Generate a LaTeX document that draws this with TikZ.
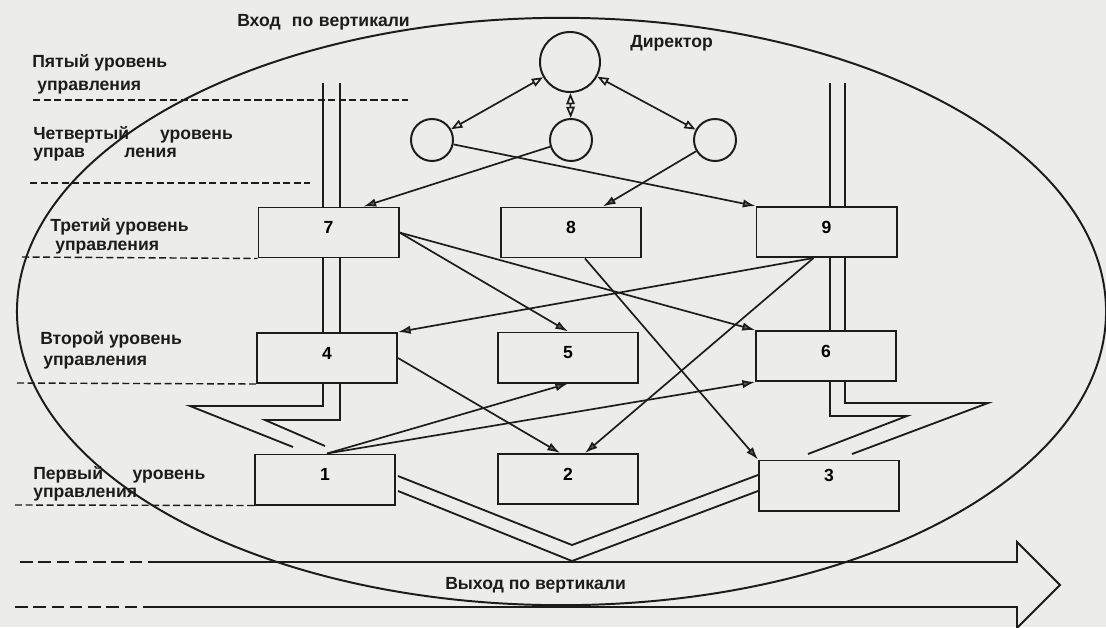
\documentclass[tikz,border=0pt]{standalone}
\usepackage{fontspec}
\setmainfont{Liberation Sans}
\usetikzlibrary{arrows.meta,positioning,calc}
\definecolor{paper}{RGB}{236,236,233}
\definecolor{ink}{RGB}{28,28,28}

\tikzset{
  unit/.style={draw=ink,line width=1.4pt,minimum width=3.5cm,minimum height=1.25cm,inner sep=0pt,text height=9pt,text depth=7pt},
  boss/.style={circle,draw=ink,line width=1.4pt,minimum size=1.5cm,inner sep=0pt},
  deputy/.style={circle,draw=ink,line width=1.4pt,minimum size=1.05cm,inner sep=0pt},
  link/.style={draw=ink,line width=1.2pt,-{Latex[length=9pt,width=6pt,fill=ink!70]}},
  both/.style={draw=ink,line width=1.2pt,{Triangle[open,length=8pt,width=6pt]}-{Triangle[open,length=8pt,width=6pt]}},
  level/.style={anchor=west,inner sep=0pt,text=ink},
  border/.style={draw=ink,dash pattern=on 5pt off 2.5pt,line width=1pt},
  longdash/.style={draw=ink,dash pattern=on 9pt off 4pt,line width=1.4pt},
  chan/.style={draw=ink,line width=1.3pt},
}

\begin{document}
\begin{tikzpicture}[x=0.025cm,y=-0.025cm,font=\bfseries\fontsize{12.5}{15}\selectfont]
        \useasboundingbox (0,0) rectangle (1106,627);
        \fill[paper] (0,0) rectangle (1106,627);

        % the big ellipse
        \draw[ink,line width=1.4pt] (561.5,311.5) ellipse [x radius=13.61cm, y radius=7.34cm];

        % level names on the left
        \node[level] (l5a) at (32,63) {Пятый уровень};
        \node[level] (l5b) at (37,88) {управления};
        \node[level] (l4a) at (33,135) {Четвертый\hspace{22pt}уровень};
        \node[level] (l4b) at (33,155) {управ\hspace{28pt}ления};
        \node[level] (l3a) at (50,227) {Третий уровень};
        \node[level] (l3b) at (55,248) {управления};
        \node[level] (l2a) at (40,340) {Второй уровень};
        \node[level] (l2b) at (43,363) {управления};
        \node[level] (l1a) at (33,475) {Первый\hspace{21pt}уровень};
        \node[level] (l1b) at (33,495) {управления};

        \node[level] (in) at (237,22) {Вход\hspace{8pt}по\hspace{4pt}вертикали};
        \node[level] (out) at (445,585) {Выход по вертикали};
        \node[level] (dirname) at (630,43) {Директор};

        % level borders
        \draw[border] (33,100) -- (408,100);
        \draw[border] (30,183) -- (310,183);

        % director and deputies
        \node[boss] (dir) at (570,62) {};
        \node[deputy] (dl) at (432,140) {};
        \node[deputy] (dm) at (571,140) {};
        \node[deputy] (dr) at (715,140) {};

        % units
        \node[unit] (b7) at (328.5,232.5) {7};
        \node[unit] (b8) at (571,232.5) {8};
        \node[unit] (b9) at (826.5,232) {9};
        \node[unit] (b4) at (327,358) {4};
        \node[unit] (b5) at (568,357.5) {5};
        \node[unit] (b6) at (826,356) {6};
        \node[unit] (b1) at (325,479.5) {1};
        \node[unit] (b2) at (568,479) {2};
        \node[unit,text depth=14pt] (b3) at (829,485.5) {3};

        \draw[border] (22,257) -- (b7.south west);
        \draw[border] (17,383) -- (b4.south west);
        \draw[border] (15,505) -- (b1.south west);

        % vertical channels
        \foreach \cx in {323,340,830,845} {
          \draw[chan] (\cx,83) -- (\cx,207);
          \draw[chan] (\cx,258) -- (\cx,332);
        }
        \draw[chan] (323,383) -- (323,406) -- (190,406) -- (293,447);
        \draw[chan] (340,383) -- (340,420) -- (265,420) -- (325,446);
        \draw[chan] (830,382) -- (830,416) -- (907,416) -- (808,454);
        \draw[chan] (845,382) -- (845,403) -- (988,403) -- (852,454);

        % director links
        \draw[both] (dir) -- (dl);
        \draw[both] (dir) -- (dm);
        \draw[both] (dir) -- (dr);
        \draw[link] (dl) -- (b9.north west);
        \draw[link] (dm) -- ($(b7.north)+(35,0)$);
        \draw[link] (dr) -- ($(b8.north)+(32,0)$);

        % links between units
        \draw[link] (b7.east) -- (b5.north);
        \draw[link] (b7.east) -- (b6.north west);
        \draw[link] ($(b8.south)+(14,0)$) -- (b3.north west);
        \draw[link] ($(b9.south)+(-13,0)$) -- (b4.north east);
        \draw[link] ($(b9.south)+(-13,0)$) -- ($(b2.north)+(17,0)$);
        \draw[link] (b4.east) -- ($(b2.north)+(-8,0)$);
        \draw[link] ($(b1.north)+(2,0)$) -- (b5.south);
        \draw[link] ($(b1.north)+(2,0)$) -- (b6.south west);

        % V towards the exit
        \draw[chan] (398,476) -- (572,545) -- (758,475);
        \draw[chan] (398,491) -- (572,561) -- (758,491);

        % exit arrow
        \draw[longdash] (20,562) -- (157,562);
        \draw[longdash] (15,607) -- (150,607);
        \draw[chan,line width=1.4pt,line join=miter] (157,562) -- (1017,562) -- (1017,542) -- (1060,585) -- (1017,628) -- (1017,607) -- (150,607);
\end{tikzpicture}
\end{document}
